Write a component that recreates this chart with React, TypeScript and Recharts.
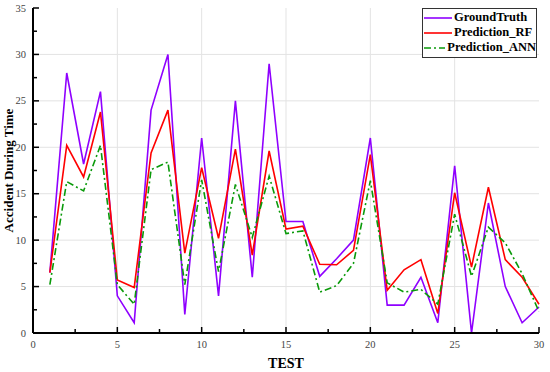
import { LineChart, Line, XAxis, YAxis, ReferenceLine } from 'recharts';

// test index 1..30
const tests = [1, 2, 3, 4, 5, 6, 7, 8, 9, 10, 11, 12, 13, 14, 15, 16, 17, 18, 19, 20, 21, 22, 23, 24, 25, 26, 27, 28, 29, 30];
const groundTruth = [6.5, 28, 18.2, 26, 4, 1.1, 24, 30, 2, 21, 4, 25, 6, 29, 12, 12, 6.1, 8, 10, 21, 3, 3, 6, 1.1, 18, 0, 14, 5, 1.1, 2.8];
const predRF = [6.5, 20.2, 16.8, 23.8, 5.7, 4.9, 19.4, 24, 8.6, 17.8, 10.2, 19.8, 8.4, 19.6, 11.2, 11.5, 7.4, 7.35, 8.9, 19.2, 4.6, 6.8, 7.9, 2.1, 15.1, 7.1, 15.7, 7.9, 6, 3.1];
const predANN = [5.2, 16.3, 15.3, 20.2, 5.2, 3.1, 17.6, 18.4, 5.2, 16.5, 6.6, 16, 10.3, 16.9, 10.7, 11, 4.4, 5.1, 7.5, 16.4, 5.4, 4.4, 4.7, 3.1, 12.8, 6.1, 11.4, 9.7, 6.4, 2.3];

const xTicks = [0, 2.5, 5, 7.5, 10, 12.5, 15, 17.5, 20, 22.5, 25, 27.5, 30];
const yTicks = [0, 2.5, 5, 7.5, 10, 12.5, 15, 17.5, 20, 22.5, 25, 27.5, 30, 32.5, 35];
const gridX = [5, 10, 15, 20, 25];
const gridY = [5, 10, 15, 20, 25, 30];

const data = tests.map((t, i) => ({
  test: t,
  gt: groundTruth[i],
  rf: predRF[i],
  ann: predANN[i],
}));

const SERIF = '"Liberation Serif", "DejaVu Serif", serif';
const M = 6; // tick label gap
const isMajor = (v: number) => v % 5 === 0;

const BottomTick = ({ x, y, payload }: any) => {
  const axisY = y - M;
  const len = isMajor(payload.value) ? 6 : 4;
  return (
    <g>
      <line x1={x} x2={x} y1={axisY} y2={axisY - len} stroke="#000" strokeWidth={1.5} />
      {isMajor(payload.value) && (
        <text x={x} y={axisY + 15} textAnchor="middle" fontFamily={SERIF} fontSize={10.5} fill="#444">
          {payload.value}
        </text>
      )}
    </g>
  );
};

const TopTick = ({ x, y, payload }: any) => {
  const axisY = y + M;
  const len = isMajor(payload.value) ? 6 : 4;
  return <line x1={x} x2={x} y1={axisY} y2={axisY + len} stroke="#000" strokeWidth={1.5} />;
};

const LeftTick = ({ x, y, payload }: any) => {
  const axisX = x + M;
  const len = isMajor(payload.value) ? 6 : 4;
  return (
    <g>
      <line x1={axisX} x2={axisX + len} y1={y} y2={y} stroke="#000" strokeWidth={1.5} />
      {isMajor(payload.value) && (
        <text x={axisX - 7} y={y + 3.5} textAnchor="end" fontFamily={SERIF} fontSize={10.5} fill="#444">
          {payload.value}
        </text>
      )}
    </g>
  );
};

const RightTick = ({ x, y, payload }: any) => {
  const axisX = x - M;
  const len = isMajor(payload.value) ? 6 : 4;
  return <line x1={axisX} x2={axisX - len} y1={y} y2={y} stroke="#000" strokeWidth={1.5} />;
};

const YLabel = ({ viewBox }: any) => {
  const cy = viewBox.y + viewBox.height / 2;
  return (
    <text
      x={13}
      y={cy}
      transform={`rotate(-90, 13, ${cy})`}
      textAnchor="middle"
      fontFamily={SERIF}
      fontWeight="bold"
      fontSize={13}
      fill="#000"
    >
      Accident During Time
    </text>
  );
};

const legendItems = [
  { name: 'GroundTruth', color: '#8f00ff', dash: undefined },
  { name: 'Prediction_RF', color: '#ff0000', dash: undefined },
  { name: 'Prediction_ANN', color: '#0a9a0a', dash: '7 3 2 3' },
];

const LegendBox = () => (
  <div
    style={{
      position: 'absolute',
      top: 8,
      left: 422,
      border: '1px solid #333',
      background: '#fff',
      width: 115,
      padding: '1px 0 2px 1px',
      fontFamily: SERIF,
      fontWeight: 'bold',
      fontSize: 12.5,
      lineHeight: '15px',
      boxSizing: 'border-box',
    }}
  >
    {legendItems.map((it) => (
      <div key={it.name} style={{ display: 'flex', alignItems: 'center' }}>
        <svg width={28} height={10} style={{ marginRight: 2 }}>
          <line x1={0} x2={28} y1={5} y2={5} stroke={it.color} strokeWidth={1.6} strokeDasharray={it.dash} />
        </svg>
        <span>{it.name}</span>
      </div>
    ))}
  </div>
);

export default function App() {
  return (
    <div style={{ position: 'absolute', left: 0, top: 0, width: 550, height: 372, background: '#fff' }}>
      <LineChart width={550} height={372} data={data} margin={{ top: 8, right: 11, left: 0, bottom: 0 }}>
        <XAxis
          xAxisId="b"
          dataKey="test"
          type="number"
          domain={[0, 30]}
          ticks={xTicks}
          interval={0}
          height={39}
          tickSize={0}
          tickMargin={M}
          tickLine={false}
          axisLine={{ stroke: '#000', strokeWidth: 2 }}
          tick={<BottomTick />}
          label={{ value: 'TEST', position: 'insideBottom', offset: 4, fontFamily: SERIF, fontWeight: 'bold', fontSize: 14, fill: '#000' }}
        />
        <XAxis
          xAxisId="t"
          orientation="top"
          dataKey="test"
          type="number"
          domain={[0, 30]}
          ticks={xTicks}
          interval={0}
          height={0}
          tickSize={0}
          tickMargin={M}
          tickLine={false}
          axisLine={{ stroke: '#000', strokeWidth: 2 }}
          tick={<TopTick />}
        />
        <YAxis
          yAxisId="l"
          type="number"
          domain={[0, 35]}
          ticks={yTicks}
          interval={0}
          width={33}
          tickSize={0}
          tickMargin={M}
          tickLine={false}
          axisLine={{ stroke: '#000', strokeWidth: 2 }}
          tick={<LeftTick />}
          label={<YLabel />}
        />
        <YAxis
          yAxisId="r"
          orientation="right"
          type="number"
          domain={[0, 35]}
          ticks={yTicks}
          interval={0}
          width={0}
          tickSize={0}
          tickMargin={M}
          tickLine={false}
          axisLine={{ stroke: '#000', strokeWidth: 2 }}
          tick={<RightTick />}
        />
        {/* major grid lines only */}
        {gridX.map((v) => (
          <ReferenceLine key={`gx${v}`} xAxisId="b" yAxisId="l" x={v} stroke="#e3e3e3" strokeWidth={1} />
        ))}
        {gridY.map((v) => (
          <ReferenceLine key={`gy${v}`} xAxisId="b" yAxisId="l" y={v} stroke="#e3e3e3" strokeWidth={1} />
        ))}
        <Line xAxisId="b" yAxisId="l" type="linear" dataKey="gt" name="GroundTruth" stroke="#8f00ff" strokeWidth={1.6} dot={false} isAnimationActive={false} />
        <Line xAxisId="b" yAxisId="l" type="linear" dataKey="rf" name="Prediction_RF" stroke="#ff0000" strokeWidth={1.6} dot={false} isAnimationActive={false} />
        <Line xAxisId="b" yAxisId="l" type="linear" dataKey="ann" name="Prediction_ANN" stroke="#0a9a0a" strokeWidth={1.6} strokeDasharray="7 3 2 3" dot={false} isAnimationActive={false} />
      </LineChart>
      <LegendBox />
    </div>
  );
}
